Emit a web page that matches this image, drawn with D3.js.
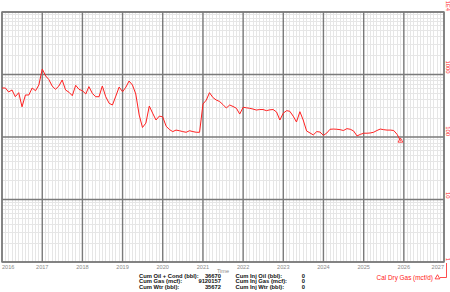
<!DOCTYPE html>
<html>
<head>
<meta charset="utf-8">
<script src="https://cdn.jsdelivr.net/npm/d3@7"></script>
<style>
  body { margin: 0; background: #fff; }
  svg { display: block; font-family: Arial, "Liberation Sans", sans-serif; }
</style>
</head>
<body>
<div id="chart"></div>
<script>
var W = 450, H = 292;
var margin = {top: 12, right: 6, bottom: 30, left: 2},
    width = W - margin.left - margin.right,
    height = H - margin.top - margin.bottom;

var lineColor = "#ff2020";
var minorColor = "#e6e6e6";
var majorColor = "#7a7a7a";

// monthly gas rate, first point Jan 2016
var startMonth = "2016-01-01";
var gasRate = [
  608, 608, 525, 565, 441, 512, 304, 470, 470, 608, 550, 679,
  1225, 946, 835, 655, 579, 655, 817, 565, 520, 458, 672, 579,
  550, 488, 640, 500, 441, 441, 655, 441, 346, 325, 452, 630,
  530, 630, 787, 679, 488, 225, 142, 167, 313, 241, 187, 216,
  210, 149, 132, 122, 129, 126, 122, 119, 126, 122, 119, 119,
  337, 391, 512, 429, 391, 370, 331, 291, 325, 308, 288, 233,
  299, 293, 288, 280, 270, 275, 275, 264, 272, 275, 251, 187,
  241, 264, 258, 216, 174, 254, 187, 125, 116, 108, 122, 120,
  106, 116, 133, 134, 133, 131, 127, 136, 133, 125, 104, 110,
  115, 115, 116, 119, 127, 134, 131, 129, 129, 127, 110, 87
];

var yearTicks = [2016, 2017, 2018, 2019, 2020, 2021, 2022, 2023, 2024, 2025, 2026, 2027];
var yTickVals = [1, 10, 100, 1000, 10000];
var yTickLabels = ["1", "10", "100", "1000", "1E4"];

var cumLabels = ["Cum Oil + Cond (bbl):", "Cum Gas (mcf):", "Cum Wtr (bbl):"];
var cumValues = ["36670", "9120157", "35672"];
var injLabels = ["Cum Inj Oil (bbl):", "Cum Inj Gas (mcf):", "Cum Inj Wtr (bbl):"];
var injValues = ["0", "0", "0"];
var seriesName = "Cal Dry Gas (mcf/d)";

var parseDate = d3.timeParse("%Y-%m-%d");
var start = parseDate(startMonth);
var data = gasRate.map(function(v, i) {
  return {date: d3.timeMonth.offset(start, i), value: v};
});

var svg = d3.select("#chart").append("svg")
    .attr("width", W)
    .attr("height", H);

var g = svg.append("g")
    .attr("transform", "translate(" + margin.left + "," + margin.top + ")");

var x = d3.scaleTime()
    .domain([new Date(yearTicks[0], 0, 1), new Date(yearTicks[yearTicks.length - 1], 0, 1)])
    .range([0, width]);
var y = d3.scaleLog()
    .domain([1, 10000])
    .range([height, 0]);

// minor grid: months and 2..9 per decade
var months = d3.timeMonth.range(x.domain()[0], x.domain()[1]);
g.append("g").selectAll("line")
    .data(months)
    .enter().append("line")
    .attr("x1", d => x(d)).attr("x2", d => x(d))
    .attr("y1", 0).attr("y2", height)
    .attr("stroke", minorColor)
    .attr("stroke-width", 1)
    .attr("shape-rendering", "crispEdges");

var minorY = [];
yTickVals.slice(0, -1).forEach(function(d) {
  for (var k = 2; k < 10; k++) minorY.push(d * k);
});
g.append("g").selectAll("line")
    .data(minorY)
    .enter().append("line")
    .attr("x1", 0).attr("x2", width)
    .attr("y1", d => y(d)).attr("y2", d => y(d))
    .attr("stroke", minorColor)
    .attr("stroke-width", 1)
    .attr("shape-rendering", "crispEdges");

// major grid
g.append("g").selectAll("line")
    .data(yearTicks)
    .enter().append("line")
    .attr("x1", d => x(new Date(d, 0, 1))).attr("x2", d => x(new Date(d, 0, 1)))
    .attr("y1", 0).attr("y2", height)
    .attr("stroke", majorColor)
    .attr("stroke-width", 1.4);

g.append("g").selectAll("line")
    .data(yTickVals)
    .enter().append("line")
    .attr("x1", 0).attr("x2", width)
    .attr("y1", d => y(d)).attr("y2", d => y(d))
    .attr("stroke", majorColor)
    .attr("stroke-width", 1.4);

g.append("rect")
    .attr("width", width).attr("height", height)
    .attr("fill", "none")
    .attr("stroke", majorColor)
    .attr("stroke-width", 1.4);

// year labels
g.append("g").selectAll("text")
    .data(yearTicks)
    .enter().append("text")
    .attr("x", d => x(new Date(d, 0, 1)))
    .attr("y", height + 6.5)
    .attr("text-anchor", (d, i) => i === 0 ? "start" : (i === yearTicks.length - 1 ? "end" : "middle"))
    .style("font-size", "5.6px")
    .style("fill", "#8a8a8a")
    .text(d => d);

g.append("text")
    .attr("x", width / 2)
    .attr("y", height + 10.5)
    .attr("text-anchor", "middle")
    .style("font-size", "5.6px")
    .style("fill", "#8a8a8a")
    .text("Time");

// right axis labels, rotated
g.append("g").selectAll("text")
    .data(yTickVals)
    .enter().append("text")
    .attr("transform", d => "translate(" + (width + 2) + "," + (y(d) - 1) + ") rotate(90)")
    .attr("text-anchor", "end")
    .style("font-size", "5.8px")
    .style("fill", lineColor)
    .text((d, i) => yTickLabels[i]);

// gas line
var line = d3.line()
    .x(d => x(d.date))
    .y(d => y(d.value));

g.append("path")
    .datum(data)
    .attr("fill", "none")
    .attr("stroke", lineColor)
    .attr("stroke-width", 1)
    .attr("stroke-linejoin", "round")
    .attr("d", line);

var last = data[data.length - 1];
var tri = d3.symbol().type(d3.symbolTriangle).size(10);
g.append("path")
    .attr("d", tri)
    .attr("transform", "translate(" + x(last.date) + "," + y(last.value) + ")")
    .attr("fill", "none")
    .attr("stroke", lineColor)
    .attr("stroke-width", 0.8);

// cum stats
var stats = svg.append("g")
    .style("font-size", "5.8px")
    .style("font-weight", "bold")
    .style("fill", "#111");

stats.selectAll(".cl").data(cumLabels).enter().append("text")
    .attr("x", 139).attr("y", (d, i) => 277.5 + i * 5.6).text(d => d);
stats.selectAll(".cv").data(cumValues).enter().append("text")
    .attr("x", 221).attr("y", (d, i) => 277.5 + i * 5.6)
    .attr("text-anchor", "end").text(d => d);
stats.selectAll(".il").data(injLabels).enter().append("text")
    .attr("x", 235.5).attr("y", (d, i) => 277.5 + i * 5.6).text(d => d);
stats.selectAll(".iv").data(injValues).enter().append("text")
    .attr("x", 305).attr("y", (d, i) => 277.5 + i * 5.6)
    .attr("text-anchor", "end").text(d => d);

// legend
svg.append("text")
    .attr("x", 433).attr("y", 279.5)
    .attr("text-anchor", "end")
    .style("font-size", "6.4px")
    .style("fill", lineColor)
    .text(seriesName);
svg.append("path")
    .attr("d", tri)
    .attr("transform", "translate(437.5,277.5)")
    .attr("fill", "none")
    .attr("stroke", lineColor)
    .attr("stroke-width", 0.8);
svg.append("path")
    .attr("d", "M440,277.5H446.5V263")
    .attr("fill", "none")
    .attr("stroke", lineColor)
    .attr("stroke-width", 0.8);
</script>
</body>
</html>
